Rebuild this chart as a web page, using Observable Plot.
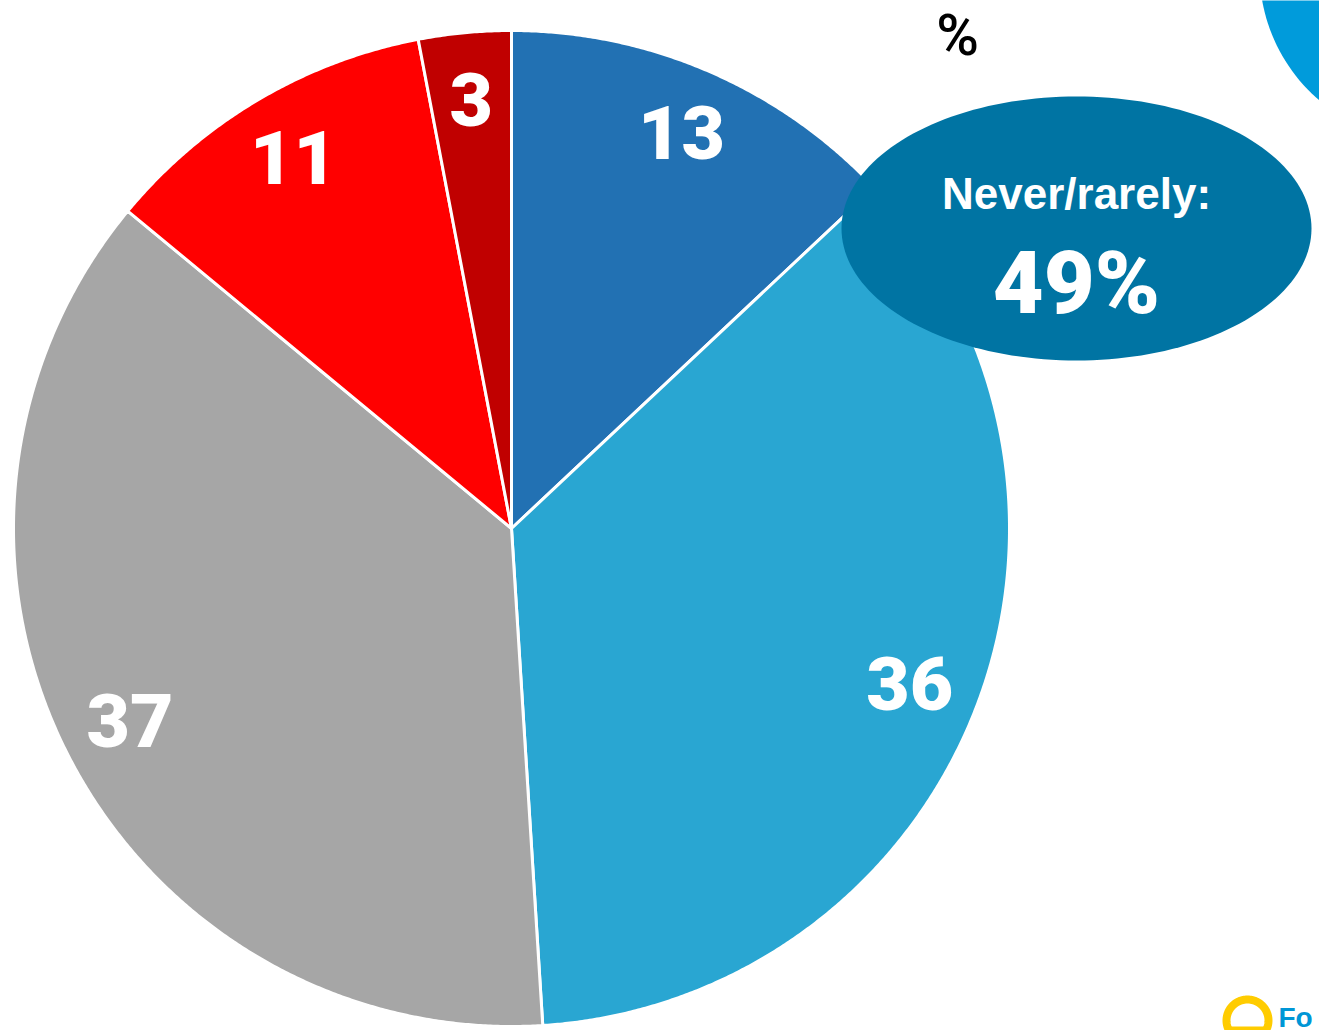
<!DOCTYPE html>
<html><head><meta charset="utf-8">
<script src="https://cdn.jsdelivr.net/npm/d3@7"></script>
<script src="https://cdn.jsdelivr.net/npm/@observablehq/plot@0.6"></script>
<style>body{margin:0;background:#fff;overflow:hidden}</style>
</head><body><div id="chart"></div>
<script>
// ---- data ----
const categories = ["Never", "Rarely", "Sometimes", "Often", "Always"];
const values = [13, 36, 37, 11, 3];
const sliceColors = ["#2271B3", "#29A6D2", "#A6A6A6", "#FF0000", "#C00000"];
const summaryLabel = "Never/rarely:";
const summaryValue = "49%";
const unitLabel = "%";
const logoText = "Fo";

// ---- layout ----
const W = 1319, H = 1030;
const cx = 511, cy = 528, R = 498;

const pie = d3.pie().sort(null).value(d => d.value)(
  categories.map((c, i) => ({category: c, value: values[i], color: sliceColors[i]}))
);
const pt = (a, r) => [cx + r * Math.sin(a), cy - r * Math.cos(a)];

const slices = pie.map(p => {
  const n = Math.max(4, Math.ceil((p.endAngle - p.startAngle) / 0.005));
  const ring = [[cx, cy]];
  for (let k = 0; k <= n; k++) ring.push(pt(p.startAngle + (p.endAngle - p.startAngle) * k / n, R));
  ring.push([cx, cy]);
  return {type: "Feature", properties: p.data, geometry: {type: "Polygon", coordinates: [ring]}};
});

const labels = pie.map(p => {
  const [x, y] = pt((p.startAngle + p.endAngle) / 2, R * 0.86);
  return {x, y, text: String(p.data.value)};
});

function ellipse(ecx, ecy, rx, ry) {
  const ring = d3.range(0, 361, 2).map(t => {
    const a = t * Math.PI / 180;
    return [ecx + rx * Math.cos(a), ecy + ry * Math.sin(a)];
  });
  return {type: "Polygon", coordinates: [ring]};
}
const ell = {cx: 1076, cy: 228, rx: 235, ry: 132};
const bubble = ellipse(ell.cx, ell.cy, ell.rx, ell.ry);
const cornerCircle = ellipse(1430, -30, 171, 171);
const logoRing = ellipse(1247, 1020, 21, 21);

const frameDomain = {type: "Polygon", coordinates: [[[0,0],[W,0],[W,H],[0,H],[0,0]]]};

const chart = Plot.plot({
  width: W, height: H,
  margin: 0,
  projection: {type: "identity", domain: frameDomain},
  style: {background: "white"},
  marks: [
    Plot.geo([cornerCircle], {fill: "#009BDB"}),
    Plot.geo(slices, {fill: d => d.properties.color, stroke: "white", strokeWidth: 3, strokeLinejoin: "round"}),
    Plot.text(labels, {x: "x", y: "y", text: "text", fill: "white", fontSize: 75, fontWeight: 900,
      fontFamily: "Roboto, 'DejaVu Sans', sans-serif"}),
    Plot.geo([bubble], {fill: "#0074A3"}),
    Plot.text([summaryLabel], {x: () => ell.cx, y: () => 194, text: d => d, fill: "white", fontSize: 44, fontWeight: 700,
      fontFamily: "'Liberation Sans Narrow', 'Liberation Sans', sans-serif"}),
    Plot.text([summaryValue], {x: () => ell.cx, y: () => 284, text: d => d, fill: "white", fontSize: 88, fontWeight: 900,
      fontFamily: "Roboto, 'DejaVu Sans', sans-serif"}),
    Plot.text([unitLabel], {x: () => 957, y: () => 36, text: d => d, fill: "black", fontSize: 58, fontWeight: 500,
      fontFamily: "Roboto, 'Liberation Sans', sans-serif"}),
    // logo fragment
    Plot.geo([logoRing], {fill: "none", stroke: "#FFCC00", strokeWidth: 8}),
    Plot.text([logoText], {x: () => 1278, y: () => 1018, text: d => d, textAnchor: "start",
      fill: "#0096D6", fontSize: 28, fontWeight: 700, fontFamily: "'Liberation Sans', sans-serif"})
  ]
});
document.getElementById("chart").appendChild(chart);
</script>
</body></html>
